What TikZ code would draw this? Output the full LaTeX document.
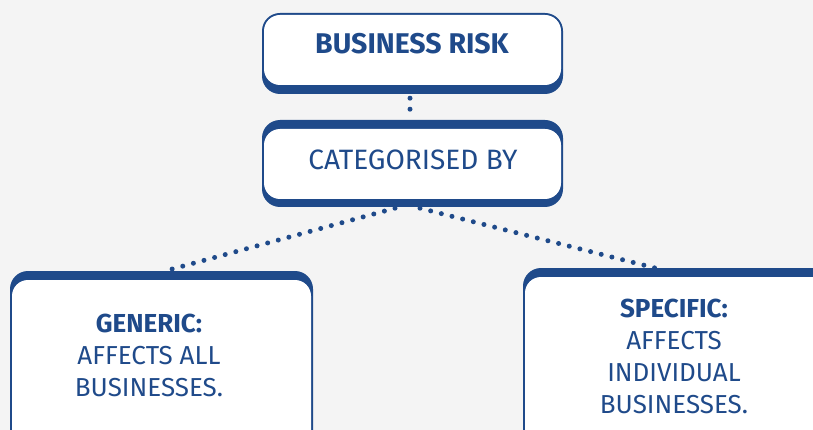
\documentclass[tikz,border=0pt]{standalone}
\usepackage{fontspec}
\setmainfont{Fira Sans}
\usetikzlibrary{calc}
\definecolor{rblue}{HTML}{1F4A8A}
\definecolor{bg}{HTML}{F4F4F4}
\begin{document}
\begin{tikzpicture}[x=1pt,y=-1pt,
  outerbox/.style={fill=rblue, rounded corners=18pt, inner sep=0pt},
  innerbox/.style={fill=white, rounded corners=16pt, inner sep=0pt},
  lbl/.style={text=rblue, align=center, font=\fontsize{26}{32}\selectfont},
  dotline/.style={draw=rblue, line width=5pt, line cap=round, dash pattern=on 0pt off 11pt}]
\useasboundingbox (0,0) rectangle (813,430);
\fill[bg] (0,0) rectangle (813,430);
% top box
\node[outerbox, minimum width=301pt, minimum height=81pt] (risk) at (412.5,53.5) {};
\node[innerbox, minimum width=297pt, minimum height=70pt] (riskin) at (412.5,50) {};
\node[lbl, font=\fontsize{28.5}{32}\selectfont\bfseries] (risktxt) at (412,44) {BUSINESS RISK};
% second box
\node[outerbox, minimum width=301pt, minimum height=87pt] (cat) at (412.5,163.5) {};
\node[innerbox, minimum width=297pt, minimum height=70pt] (catin) at (412.5,164) {};
\node[lbl, font=\fontsize{28}{32}\selectfont] (cattxt) at (413,159.5) {CATEGORISED BY};
% left box
\node[outerbox, minimum width=303pt, minimum height=200pt] (gen) at (161.5,371) {};
\node[innerbox, minimum width=299pt, minimum height=200pt] (genin) at (161.5,380) {};
\node[lbl] (gentxt) at (149,355) {\textbf{GENERIC:}\\AFFECTS ALL\\BUSINESSES.};
% right box
\node[outerbox, minimum width=320pt, minimum height=200pt] (spec) at (683,368) {};
\node[innerbox, minimum width=316pt, minimum height=200pt] (specin) at (683,377) {};
\node[lbl] (spectxt) at (674,356) {\textbf{SPECIFIC:}\\AFFECTS\\INDIVIDUAL\\BUSINESSES.};
% connectors
\coordinate (c1) at ($(cat.south)+(-17.5,1)$);
\coordinate (c2) at ($(cat.south)+(7.5,1)$);
\coordinate (g1) at (165,271);
\coordinate (s1) at (655,268);
\draw[dotline] ($(risk.south)+(-2.5,4)$) -- ($(cat.north)+(-2.5,-0.5)$);
\draw[dotline] (c1) -- (g1);
\draw[dotline] (c2) -- (s1);
\end{tikzpicture}
\end{document}
